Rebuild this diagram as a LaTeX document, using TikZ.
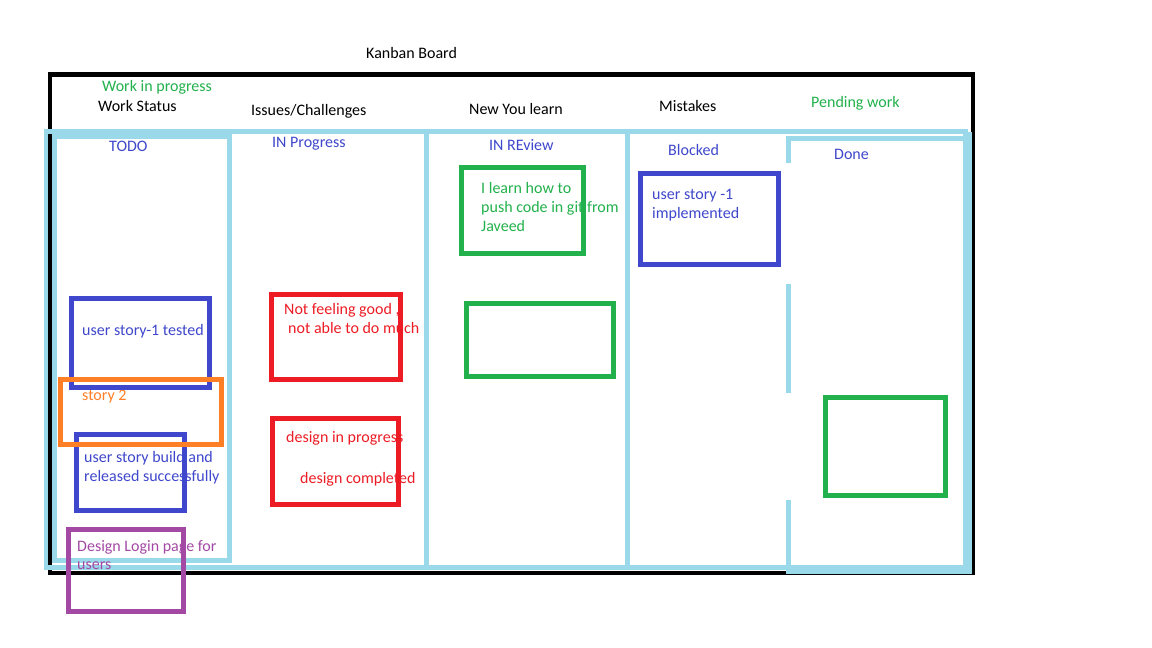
\documentclass[tikz,border=0pt]{standalone}
\usepackage{fontspec}
\setmainfont{Carlito}
\definecolor{lblue}{HTML}{99D9EA}
\definecolor{kblue}{HTML}{3F48CC}
\definecolor{kgreen}{HTML}{22B14C}
\definecolor{kred}{HTML}{ED1C24}
\definecolor{korange}{HTML}{FF7F27}
\definecolor{kpurple}{HTML}{A349A4}
\begin{document}
\begin{tikzpicture}[x=1pt,y=-1pt,
  txt/.style={anchor=base west,inner sep=0pt,font=\fontsize{16}{19}\selectfont},
  card/.style={line width=4.7pt},
  lb/.style={fill=lblue}]
\useasboundingbox[fill=white] (0,0) rectangle (1152,648);
% black board frame
\draw[line width=4.5pt] (49.75,74.25) rectangle (972.75,572.75);
% light blue board structure
\fill[lb] (44,129) rectangle (968,134);
\fill[lb] (44,129) rectangle (48,569);
\fill[lb] (44,565) rectangle (786,570);
\fill[lb] (52,134) rectangle (232,139);
\fill[lb] (52,134) rectangle (57,563);
\fill[lb] (227,134) rectangle (232,563);
\fill[lb] (52,558) rectangle (232,563);
\fill[lb] (424,134) rectangle (429,570);
\fill[lb] (625,134) rectangle (630,570);
\fill[lb] (786,136) rectangle (965,141);
\fill[lb] (963,132) rectangle (972,574);
\fill[lb] (786,565) rectangle (972,574);
\fill[lb] (786,136) rectangle (791,163);
\fill[lb] (786,284) rectangle (791,393);
\fill[lb] (786,500) rectangle (791,574);
% headings
\node[txt] (title) at (366,58) {Kanban Board};
\node[txt,text=kgreen] (wip) at (102,91) {Work in progress};
\node[txt] (ws) at (98,111) {Work Status};
\node[txt] (ic) at (251,115) {Issues/Challenges};
\node[txt] (nyl) at (469,114) {New You learn};
\node[txt] (mis) at (659,111) {Mistakes};
\node[txt,text=kgreen] (pw) at (811,107) {Pending work};
% column labels
\node[txt,text=kblue] (todo) at (109,151) {TODO};
\node[txt,text=kblue] (inprog) at (272,147) {IN Progress};
\node[txt,text=kblue] (inrev) at (489,150) {IN REview};
\node[txt,text=kblue] (blk) at (668,155) {Blocked};
\node[txt,text=kblue] (done) at (834,159) {Done};
% card texts
\node[txt,text=kblue] (t1) at (82,335) {user story-1 tested};
\node[txt,text=korange] (t2) at (82,400) {story 2};
\node[txt,text=kblue] (t3a) at (84,462) {user story build and};
\node[txt,text=kblue] (t3b) at (84,481) {released successfully};
\node[txt,text=kpurple] (t4a) at (77,551) {Design Login page for};
\node[txt,text=kpurple] (t4b) at (77,569) {users};
\node[txt,text=kred] (t5a) at (284,314) {Not feeling good ,};
\node[txt,text=kred] (t5b) at (288,333) {not able to do much};
\node[txt,text=kred] (t6a) at (286,442) {design in progress};
\node[txt,text=kred] (t6b) at (300,483) {design completed};
\node[txt,text=kgreen] (t7a) at (481,193) {I learn how to};
\node[txt,text=kgreen] (t7b) at (481,212) {push code in git from};
\node[txt,text=kgreen] (t7c) at (481,231) {Javeed};
\node[txt,text=kblue] (t8a) at (652,199) {user story -1};
\node[txt,text=kblue] (t8b) at (652,218) {implemented};
% cards
\draw[card,kblue] (71.5,298.5) rectangle (209.5,387.5);
\draw[card,kblue] (76.5,434.5) rectangle (184.5,510.5);
\draw[card,korange] (60.5,379.5) rectangle (221.5,444.5);
\draw[card,kpurple] (68.5,529.5) rectangle (183.5,611.5);
\draw[card,kred] (271.5,294.5) rectangle (400.5,379.5);
\draw[card,kred] (272.5,418.5) rectangle (398.5,504.5);
\draw[card,kgreen] (461.5,167.5) rectangle (583.5,253.5);
\draw[card,kgreen] (466.5,303.5) rectangle (613.5,376.5);
\draw[card,kblue] (640.5,173.5) rectangle (778.5,264.5);
\draw[card,kgreen] (825.5,397.5) rectangle (945.5,495.5);
\end{tikzpicture}
\end{document}
